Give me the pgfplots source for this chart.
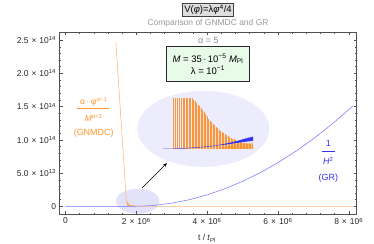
\documentclass[border=0pt]{standalone}
\usepackage{fontspec}
\setmainfont{Liberation Sans}
\usepackage{pgfplots}
\pgfplotsset{compat=1.18}
\usetikzlibrary{arrows.meta}
\definecolor{orangeL}{RGB}{255,140,20}
\definecolor{orangeS}{RGB}{250,175,110}
\definecolor{orangeK}{RGB}{250,150,60}
\definecolor{orangeT}{RGB}{255,150,40}
\definecolor{blueM}{RGB}{110,110,255}
\definecolor{blueD}{RGB}{40,40,240}
\definecolor{blueT}{RGB}{50,50,235}
\definecolor{ellA}{RGB}{236,236,252}
\definecolor{ellB}{RGB}{226,226,250}
\definecolor{boxG}{RGB}{232,250,232}
\definecolor{frameC}{RGB}{80,80,80}
\begin{document}
\begin{tikzpicture}[x=1bp,y=1bp]
\useasboundingbox (0,0) rectangle (374,244);
\fill[ellA] (203.3,115.2) ellipse [x radius=66, y radius=38];
\fill[ellB] (137.7,42.8) ellipse [x radius=21.7, y radius=12.5];
\begin{axis}[
  at={(59.5bp,29.5bp)}, anchor=south west,
  scale only axis, width=297.2bp, height=182.2bp,
  xmin=-169000, xmax=8226000, ymin=-1.23e13, ymax=2.617e14,
  scaled ticks=false,
  xtick={0,2000000,4000000,6000000,8000000},
  xticklabels={0,2\hspace{0.35em}×\hspace{0.35em}10\textsuperscript{6},4\hspace{0.35em}×\hspace{0.35em}10\textsuperscript{6},6\hspace{0.35em}×\hspace{0.35em}10\textsuperscript{6},8\hspace{0.35em}×\hspace{0.35em}10\textsuperscript{6}},
  ytick={0,5e13,1e14,1.5e14,2e14,2.5e14},
  yticklabels={0,5.0\hspace{0.35em}×\hspace{0.35em}10\textsuperscript{13},1.0\hspace{0.35em}×\hspace{0.35em}10\textsuperscript{14},1.5\hspace{0.35em}×\hspace{0.35em}10\textsuperscript{14},2.0\hspace{0.35em}×\hspace{0.35em}10\textsuperscript{14},2.5\hspace{0.35em}×\hspace{0.35em}10\textsuperscript{14}},
  minor x tick num=4, minor y tick num=4,
  tick align=inside,
  major tick length=3bp, minor tick length=1.7bp,
  tick style={frameC, line width=0.4bp},
  axis line style={frameC, line width=0.6bp},
  ticklabel style={font=\fontsize{8.5}{10}\selectfont, text=black!85},
]
\addplot[blueM, line width=0.5bp] coordinates {
(0,0) (1900000,0) (2200000,3.51e11) (2500000,1.405e12) (3000000,4.72e12)
(3500000,9.99e12) (4000000,1.721e13) (4500000,2.638e13) (5000000,3.75e13)
(5500000,5.057e13) (6000000,6.56e13) (6500000,8.257e13) (7000000,1.015e14)
(7500000,1.2237e14) (8000000,1.452e14) (8130000,1.515e14)};
\addplot[orangeS, line width=0.5bp] coordinates {
(1424000,2.47e14) (1720000,7e12) (1750000,3e12) (1800000,1.5e12) (1900000,8e11)
(2100000,3e11) (2500000,1e11) (8130000,0)};
\addplot[orangeL, draw opacity=0.5, ycomb, line width=0.4bp] coordinates {
(1740000,6e12) (1760000,5e12) (1780000,4e12) (1800000,3e12) (1830000,2.5e12)
(1860000,2e12) (1900000,1.5e12) (1950000,1e12)};
\end{axis}
% inset
\begin{axis}[
  at={(163bp,95bp)}, anchor=south west,
  scale only axis, width=90bp, height=51bp,
  xmin=0, xmax=90, ymin=0, ymax=51, hide axis, clip=true,
]
\addplot[fill=orangeL, fill opacity=0.13, draw=none] coordinates {
(29,0) (29,51) (30.5,49) (32,47.5) (33.5,46) (35,44) (36.5,42.5) (38,40.5)
(39.5,39) (41,37) (42.5,35) (44,32.5) (45.5,30) (47,28) (48.5,26.5) (50,25)
(51.5,23.5) (53,22) (54.5,20.5) (56,19) (57.5,17.5) (59,16.5) (60.5,15.5)
(62,14.5) (63.5,13.5) (65,12.5) (66.5,11.5) (68,10.8) (69.5,10.2) (71,9.6)
(72.5,9) (74,8.4) (75.5,7.8) (77,7.2) (78.5,6.8) (80,6.4) (81.5,6) (83,5.6)
(84.5,5.2) (86,5) (87.5,4.7) (89,4.4) (90,4.3) (90,0)};
\addplot[draw=orangeK, ycomb, line width=0.6bp] coordinates {
(10.3,51) (12,51) (14,51) (16.5,51) (18,51) (20,51) (21.5,51) (23,51)
(24.5,51) (26,51) (27.5,51) (29,51)
(30.5,49) (32,47.5) (33.5,46) (35,44) (36.5,42.5) (38,40.5)
(39.5,39) (41,37) (42.5,35) (44,32.5) (45.5,30) (47,28) (48.5,26.5) (50,25)
(51.5,23.5) (53,22) (54.5,20.5) (56,19) (57.5,17.5) (59,16.5) (60.5,15.5)
(62,14.5) (63.5,13.5) (65,12.5) (66.5,11.5) (68,10.8) (69.5,10.2) (71,9.6)
(72.5,9) (74,8.4) (75.5,7.8) (77,7.2) (78.5,6.8) (80,6.4) (81.5,6) (83,5.6)
(84.5,5.2) (86,5) (87.5,4.7) (89,4.4)};
\addplot[fill=orangeL, fill opacity=0.45, draw=none] coordinates {
(55,0) (60,2) (70,4) (80,5.5) (90,6.5) (90,0)};
\addplot[blueD, opacity=0.8, line width=0.5bp] coordinates {
(0,0) (10,0.2) (20,0.6) (30,1.2) (40,2) (50,3) (60,4.5) (70,6.2) (80,8.2) (90,10.3)};
\addplot[fill=blueD, draw=none, opacity=0.9] coordinates {
(58,4.3) (65,5.9) (70,7) (75,8.3) (80,9.8) (85,11.2) (90,12.4)
(90,8.2) (85,7.5) (80,6.9) (75,6.2) (70,5.5) (65,4.8) (58,4.0)};
\end{axis}
\draw[-{Stealth[length=4bp,width=3bp]}, line width=0.6bp] (142,56) -- (167,81);
% texts
\node[font=\fontsize{9.5}{11}\selectfont, draw=black!75, fill=black!13, line width=0.6bp, inner xsep=2bp, inner ysep=1.6bp] at (208,234.3) {V(\textit{φ})=λ\textit{φ}\textsuperscript{4}/4};
\node[font=\fontsize{8.5}{10}\selectfont, text=black!40] at (208,221) {Comparison of GNMDC and GR};
\node[font=\fontsize{9}{10}\selectfont, text=black!45] at (208.3,204) {α = 5};
\node[font=\fontsize{9.5}{12.4}\selectfont, draw=black!85, fill=boxG, line width=0.7bp, align=center, minimum width=82.6bp, minimum height=35bp] at (208,179.8) {\textit{M} = 35\hspace{0.15em}·\hspace{0.15em}10\textsuperscript{−5} \textit{M}\textsubscript{Pl}\\λ = 10\textsuperscript{−1}};
\node[font=\fontsize{8.5}{10}\selectfont, text=orangeT] at (93.7,142.3) {α\hspace{0.2em}·\hspace{0.2em}φ\textsuperscript{α−1}};
\draw[orangeT, line width=0.8bp] (77,135.7) -- (108.7,135.7);
\node[font=\fontsize{8.5}{10}\selectfont, text=orangeT] at (93.7,125.7) {\textit{M}\textsuperscript{α+1}};
\node[font=\fontsize{9}{10}\selectfont, text=orangeT] at (93.7,111.3) {(GNMDC)};
\node[font=\fontsize{9}{10}\selectfont, text=blueT] at (328.3,100.7) {1};
\draw[blueT, line width=0.8bp] (321.7,92.3) -- (335,92.3);
\node[font=\fontsize{9}{10}\selectfont, text=blueT] at (328.3,83) {\textit{H}\textsuperscript{2}};
\node[font=\fontsize{9}{10}\selectfont, text=blueT] at (328.3,66.3) {(GR)};
\node[font=\fontsize{8.5}{10}\selectfont, text=black!85] at (207,5.3) {t / \textit{t}\textsubscript{Pl}};
\end{tikzpicture}
\end{document}
